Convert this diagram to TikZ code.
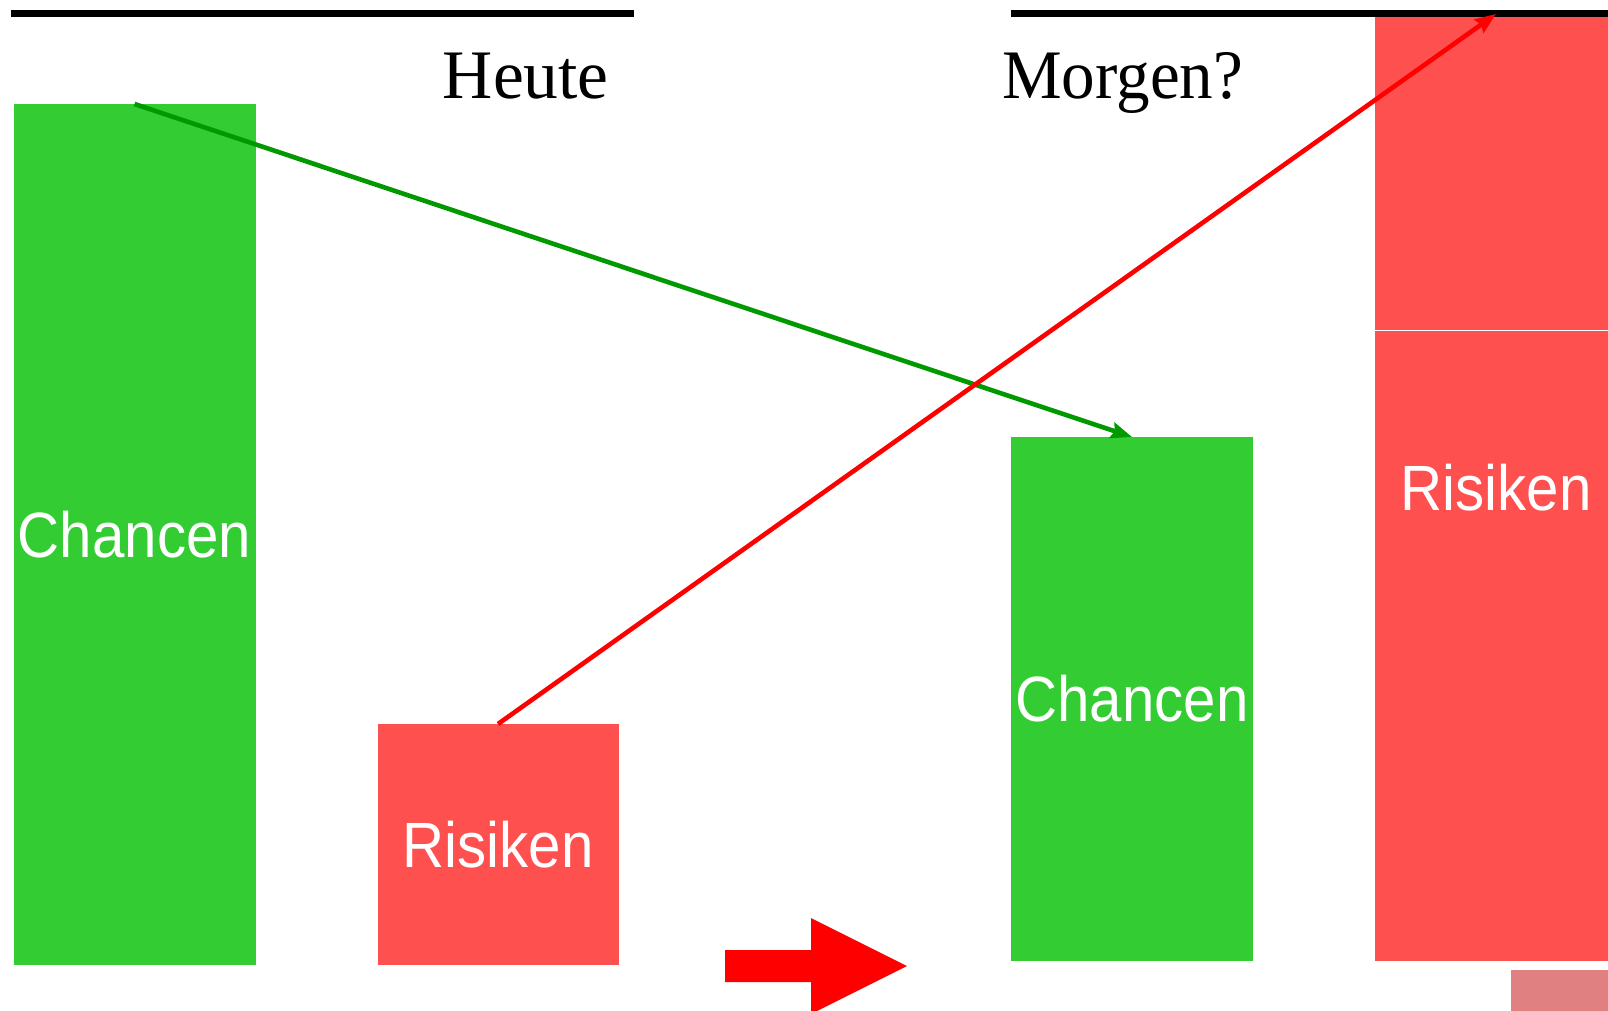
\documentclass[tikz,border=0pt]{standalone}
\usepackage{fontspec}
\setmainfont{Liberation Serif}
\newfontfamily\narrowserif[FakeStretch=0.965]{Liberation Serif}
\newfontfamily\barfont[FakeStretch=0.91]{Liberation Sans}
\usetikzlibrary{arrows.meta}
\definecolor{barGreen}{HTML}{33CC33}
\definecolor{barRed}{HTML}{FF5050}
\definecolor{arrGreen}{HTML}{009900}
\definecolor{arrRed}{HTML}{FF0000}
\definecolor{paleRed}{HTML}{E08080}
\tikzset{
  bar/.style={draw=none, inner sep=0pt, outer sep=0pt, text=white,
    font=\barfont\fontsize{64}{64}\selectfont},
  greenbar/.style={bar, fill=barGreen},
  redbar/.style={bar, fill=barRed},
  heading/.style={inner sep=0pt, font=\fontsize{69.5}{70}\selectfont},
  rule/.style={line width=6.5pt, black},
  trend/.style={line width=4.6pt, -{Stealth[length=21pt, width=16pt, inset=3pt]}},
}
\begin{document}
\begin{tikzpicture}[x=1pt,y=-1pt]
\useasboundingbox (0,0) rectangle (1608,1011);
% bars
\node[greenbar, minimum width=242pt, minimum height=861pt] (c1) at (134.5,534.5) {Chancen};
\node[redbar, minimum width=241pt, minimum height=241pt] (r1) at (498,844.5) {Risiken};
\node[greenbar, minimum width=242pt, minimum height=524pt] (c2) at (1132,699) {Chancen};
\node[redbar, minimum width=242pt, minimum height=316pt] (r2top) at (1496,172) {};
\node[redbar, minimum width=242pt, minimum height=630.5pt] (r2bot) at (1496,646.2) {};
\node[bar] (r2lab) at (1496,487.5) {Risiken};
\node[draw=none, fill=paleRed, inner sep=0pt, minimum width=120pt, minimum height=45pt, anchor=north west] (pale) at (1511,970) {};
% header rules
\coordinate (l1a) at (11,13.3);
\coordinate (l1b) at (634,13.3);
\coordinate (l2a) at (1011,13.3);
\coordinate (l2b) at (1608,13.3);
\draw[rule] (l1a) -- (l1b);
\draw[rule] (l2a) -- (l2b);
% headings
\node[heading, anchor=base east] (heute) at (609,99) {Heute};
\node[heading, anchor=base west, font=\narrowserif\fontsize{69.5}{70}\selectfont] (morgen) at (1002,99) {Morgen?};
% trend arrows
\draw[trend, arrGreen] (c1.north) -- (c2.north);
\draw[trend, arrRed] (r1.north) -- (r2top.north);
% block arrow
\fill[arrRed] (725,950) -- (811,950) -- (811,918) -- (907,966) -- (811,1014) -- (811,982) -- (725,982) -- cycle;
\end{tikzpicture}
\end{document}
